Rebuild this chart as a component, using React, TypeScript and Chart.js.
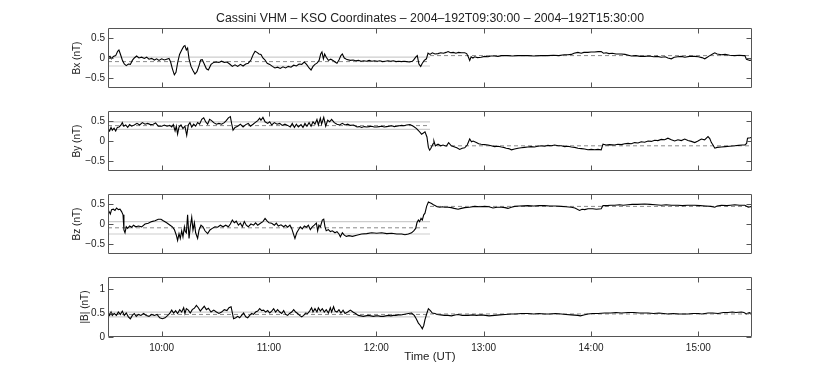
import React, { useEffect, useRef } from 'react';
import { Chart, registerables } from 'chart.js';

Chart.register(...registerables);

// ---------- DATA (time = minutes after 09:30 UT) ----------
const TITLE = 'Cassini VHM – KSO Coordinates – 2004–192T09:30:00 – 2004–192T15:30:00';
const X_TICKS = [30, 90, 150, 210, 270, 330];
const X_TICK_LABELS = ['10:00', '11:00', '12:00', '13:00', '14:00', '15:00'];
const SEG_START = [0, 180];
const SEG_END = [180, 360];

const BX_T = [0, 1.1, 2, 3, 4.3, 5.4, 6.1, 6.9, 8, 9.1, 10.2, 11.4, 12.5, 13.6, 14.7, 16, 17.3, 18.8, 20.3, 21.6, 22.9, 24.4, 25.9, 27.2, 28.5, 30, 31.5, 32.8, 34.1, 35, 36, 37.1, 38, 39, 40, 41.2, 42.3, 43, 43.8, 44.5, 45.3, 46.4, 47.5, 48.6, 49.7, 50.9, 51.8, 52.7, 53.8, 55, 56.1, 57.6, 59.1, 60.6, 62, 63.5, 65, 66.5, 68, 69.5, 71, 72.5, 74, 75.5, 77, 78.4, 79.9, 81.2, 82.2, 83.3, 84.4, 85.5, 86.6, 87.8, 89, 90.4, 91.9, 93.3, 94.8, 96.3, 97.8, 99.3, 100.8, 102.3, 103.8, 105.3, 106.8, 108.3, 109.7, 111, 112.4, 113.5, 114.6, 115.7, 116.8, 118, 118.9, 119.6, 120.4, 121.1, 122, 123.2, 124.5, 125.8, 126.9, 128, 129.1, 130.2, 131, 132.1, 133.6, 135.5, 137, 138.5, 140, 141.5, 143, 144.5, 146, 147.5, 149, 150.5, 152, 153.5, 155, 156.5, 158, 159.5, 161, 162.5, 164, 165.5, 167, 168.5, 170, 170.7, 172, 172.9, 173.8, 174.8, 175.7, 176.8, 178, 178.9, 180, 181.3, 182.8, 184.5, 186, 187.5, 189, 190.1, 191.5, 193, 194.5, 196, 197.5, 199.4, 200.5, 201.5, 202.2, 203, 204, 205, 206.5, 208.6, 210.5, 212.5, 214, 216.1, 218, 220, 223.5, 226, 229, 232, 234.7, 238, 242, 245.9, 249, 252, 255, 257.1, 259, 260.5, 262.7, 264.5, 266, 268.3, 270, 272, 274, 275.7, 277, 278.5, 280, 282, 284, 287, 289, 291, 292.5, 295, 297.5, 300, 302.5, 305, 307, 309.3, 311.5, 313, 314.9, 316.5, 318.5, 320.5, 322.5, 325, 328, 330, 332, 333.6, 335, 336.4, 338, 339.2, 340.5, 342.9, 345, 347.5, 350.4, 353, 355, 356, 356.9, 358.8, 360];
const BX_V = [0, 0.04, -0.02, 0.04, 0.06, 0.17, 0.2, 0.1, -0.05, -0.15, -0.19, -0.15, -0.16, -0.06, 0, 0.05, 0, 0.02, -0.01, 0.02, -0.03, -0.01, -0.05, -0.02, -0.06, -0.02, -0.05, -0.03, -0.01, -0.1, -0.27, -0.42, -0.36, -0.1, 0.09, 0.2, 0.29, 0.31, 0.2, 0.25, -0.02, -0.21, -0.31, -0.4, -0.34, -0.19, -0.05, -0.04, -0.15, -0.27, -0.3, -0.16, -0.11, -0.1, -0.11, -0.08, -0.11, -0.1, -0.15, -0.21, -0.17, -0.21, -0.16, -0.2, -0.15, -0.13, -0.05, 0.09, 0.17, 0.14, 0.1, 0.09, 0, -0.05, -0.13, -0.16, -0.21, -0.25, -0.23, -0.26, -0.22, -0.25, -0.21, -0.23, -0.18, -0.2, -0.15, -0.16, -0.1, -0.16, -0.25, -0.3, -0.21, -0.16, -0.13, -0.06, 0.1, 0.15, -0.02, 0.1, 0.02, -0.06, -0.03, -0.06, -0.1, -0.13, -0.05, 0.06, 0.1, 0, -0.04, -0.06, -0.05, -0.07, -0.06, -0.08, -0.07, -0.08, -0.06, -0.08, -0.07, -0.08, -0.07, -0.09, -0.08, -0.07, -0.08, -0.07, -0.09, -0.08, -0.09, -0.08, -0.09, -0.1, -0.08, -0.06, 0.02, 0.06, -0.15, -0.21, -0.13, -0.06, -0.02, 0.12, 0.09, 0.13, 0.1, 0.11, 0.13, 0.12, 0.14, 0.16, 0.13, 0.14, 0.12, 0.14, 0.13, 0.13, 0.11, 0.02, -0.06, 0.03, 0, 0.03, 0.01, 0.02, 0.04, 0.03, 0.05, 0.05, 0.04, 0.06, 0.06, 0.05, 0.06, 0.06, 0.06, 0.05, 0.06, 0.06, 0.07, 0.06, 0.08, 0.08, 0.09, 0.12, 0.14, 0.12, 0.14, 0.14, 0.15, 0.15, 0.16, 0.16, 0.12, 0.13, 0.11, 0.12, 0.1, 0.1, 0.09, 0.07, 0.05, 0.06, 0.04, 0.04, 0.05, 0.03, 0.04, 0.02, 0.03, 0, -0.02, 0.02, 0.03, 0.04, 0.02, 0.04, 0.04, 0.03, 0.01, -0.02, 0.02, 0.06, 0.1, 0.13, 0.1, 0.08, 0.09, 0.07, 0.06, 0.07, 0.06, 0.06, -0.03, -0.06, -0.05];

const BY_T = [0, 0.9, 1.7, 2.4, 3.4, 4.3, 5.2, 6.2, 7.3, 8, 8.8, 9.9, 11, 12.1, 13.2, 14.7, 16.2, 17.7, 19.2, 20.7, 22.2, 23.7, 25.3, 26.6, 28.1, 30, 31.5, 33, 34.5, 35.6, 36.5, 37.5, 38.2, 38.9, 39.7, 40.8, 41.9, 43, 44, 44.9, 45.8, 46.8, 47.9, 49, 50.1, 51.2, 52.4, 53.5, 54.6, 55.7, 56.8, 57.9, 59.1, 60.6, 62, 63.5, 65, 66.1, 67.3, 68.4, 69.1, 69.9, 71, 72.5, 74, 75.5, 77, 78.4, 79.6, 81.1, 82.2, 83.7, 84.8, 85.5, 86.6, 87.8, 89.3, 90.4, 91.5, 93, 94.5, 96, 97.4, 98.9, 100.4, 101.9, 103, 104.2, 105.3, 106.4, 107.9, 109, 110.1, 111.2, 112.4, 113.5, 114.6, 115.7, 116.8, 117.6, 118.7, 119.4, 120.6, 121.7, 122.8, 123.9, 125, 126.5, 128, 129.5, 131, 132.5, 134, 135.5, 137.3, 139.2, 140.5, 141.8, 143.2, 144.6, 146, 147.4, 148.8, 150.2, 151.6, 153, 154.4, 155.8, 157.2, 158.6, 160, 161.4, 162.8, 164.2, 165.5, 166.9, 168.8, 170.7, 172.5, 173.8, 175.3, 176.3, 177.2, 178.3, 179.1, 179.8, 180.5, 181.7, 182.2, 183, 184.5, 186, 187.3, 189.1, 190.4, 191.9, 193.8, 195, 196.6, 198, 199.4, 200.8, 202.2, 203.2, 204.1, 205.9, 207.2, 208.6, 210.5, 212.4, 214.2, 216.1, 218, 219.9, 221.2, 222.6, 224, 225.5, 227.3, 229.2, 231, 232.8, 234.7, 236.5, 238.4, 240.3, 242.2, 244, 245.9, 247.8, 249.7, 251.6, 253.4, 255.3, 257.1, 259, 260.9, 262.7, 264.6, 266.4, 268.3, 270.2, 272, 273.9, 275.7, 276.7, 278.5, 280.4, 283.2, 285, 287, 288.8, 290.7, 292.5, 294.4, 296.3, 298.1, 300, 301.9, 303.7, 305.6, 307.4, 309.3, 311.2, 313, 314.9, 316.8, 318.6, 320.5, 322.4, 324.2, 326.1, 328, 329.8, 331.7, 333.5, 335.4, 336.4, 337.3, 338.2, 339.2, 340.5, 342.9, 345, 347.5, 350.4, 352.5, 354.5, 356, 357, 357.5, 359, 360];
const BY_V = [0.31, 0.25, 0.34, 0.27, 0.32, 0.25, 0.34, 0.35, 0.4, 0.46, 0.37, 0.4, 0.34, 0.41, 0.37, 0.4, 0.44, 0.4, 0.46, 0.42, 0.44, 0.41, 0.42, 0.45, 0.37, 0.37, 0.4, 0.37, 0.39, 0.35, 0.41, 0.25, 0.37, 0.17, 0.35, 0.4, 0.31, 0.37, 0.14, 0.4, 0.46, 0.35, 0.42, 0.37, 0.46, 0.42, 0.54, 0.58, 0.48, 0.42, 0.54, 0.51, 0.46, 0.42, 0.44, 0.42, 0.46, 0.51, 0.58, 0.61, 0.44, 0.27, 0.34, 0.37, 0.42, 0.35, 0.41, 0.44, 0.37, 0.42, 0.46, 0.51, 0.57, 0.52, 0.59, 0.48, 0.44, 0.48, 0.4, 0.46, 0.42, 0.44, 0.39, 0.42, 0.39, 0.35, 0.44, 0.34, 0.42, 0.35, 0.41, 0.34, 0.44, 0.37, 0.46, 0.37, 0.48, 0.42, 0.54, 0.4, 0.57, 0.42, 0.59, 0.37, 0.52, 0.48, 0.54, 0.46, 0.42, 0.4, 0.44, 0.4, 0.42, 0.39, 0.4, 0.35, 0.36, 0.34, 0.36, 0.35, 0.36, 0.37, 0.35, 0.35, 0.36, 0.37, 0.35, 0.36, 0.37, 0.38, 0.36, 0.37, 0.38, 0.39, 0.38, 0.4, 0.41, 0.37, 0.31, 0.25, 0.17, 0.2, 0.23, 0.1, -0.16, -0.23, -0.18, -0.07, 0, -0.12, -0.08, -0.12, -0.1, -0.13, -0.04, -0.12, -0.15, -0.17, -0.21, -0.18, -0.17, -0.1, 0.05, -0.02, 0, -0.04, -0.07, -0.08, -0.09, -0.1, -0.12, -0.14, -0.13, -0.15, -0.16, -0.18, -0.19, -0.22, -0.2, -0.18, -0.17, -0.16, -0.15, -0.14, -0.15, -0.13, -0.12, -0.13, -0.11, -0.12, -0.1, -0.12, -0.12, -0.14, -0.13, -0.15, -0.16, -0.18, -0.19, -0.2, -0.22, -0.21, -0.22, -0.21, -0.22, -0.08, -0.1, -0.09, -0.1, -0.08, -0.09, -0.07, -0.06, -0.07, -0.04, -0.05, -0.02, -0.03, 0, -0.01, 0.02, 0.01, 0.04, 0.03, 0.07, 0.03, 0, 0.03, 0.01, 0.05, 0.01, -0.01, -0.04, 0, 0.05, 0.03, 0.11, 0.06, -0.04, -0.1, -0.18, -0.16, -0.15, -0.14, -0.13, -0.12, -0.11, -0.1, -0.1, -0.06, 0.07, 0.08, 0.09];

const BZ_T = [0, 0.6, 1.3, 2, 3, 3.9, 4.8, 5.8, 6.7, 7.6, 8.4, 8.9, 9.5, 10.2, 11, 12.1, 13.2, 14.3, 15.5, 17, 18.8, 20.7, 22.5, 24.4, 26.3, 28.1, 29.6, 30.9, 32.8, 34.7, 36, 37.1, 38.2, 38.9, 39.7, 40.4, 41.2, 41.9, 42.7, 43.2, 43.8, 44.5, 45.3, 46, 46.8, 47.5, 48.3, 49, 50.1, 50.9, 52, 53.1, 54.2, 55.7, 57, 58.3, 59.8, 61.3, 62.8, 64.3, 65.8, 67.3, 68.4, 69.5, 70.6, 71.7, 72.9, 74, 75.1, 76.2, 77.3, 78.4, 79.9, 81.4, 82.5, 83.7, 85.2, 86.6, 87.8, 88.9, 90, 91.5, 93, 94.1, 95.2, 96.7, 98.2, 99.3, 100.4, 101.7, 102.7, 103.6, 104.5, 105.5, 106.4, 107.5, 108.6, 109.8, 110.9, 112, 113.1, 114.2, 115.3, 116.5, 117.2, 117.9, 118.7, 119.8, 120.6, 121.3, 122, 123.2, 124.3, 125.4, 126.9, 128, 129.1, 129.9, 131, 132.1, 133.2, 134.7, 136.6, 139, 141.8, 144.6, 147.4, 150.2, 153, 155.8, 158.6, 161.4, 164.2, 166, 167.9, 169.7, 170.9, 172, 172.7, 173.5, 174.2, 175, 175.7, 176.5, 177.2, 178.1, 179.1, 180, 180.9, 181.9, 182.8, 184, 185.5, 187, 188.2, 190, 191.9, 193.5, 195.7, 197.5, 199.4, 202, 205, 208, 210.6, 213, 215.2, 217.5, 219.9, 222, 223.6, 225.5, 227.3, 230, 234.7, 238, 241, 244, 247, 250, 253.4, 256, 259, 261, 263.6, 265, 266.5, 268.3, 271, 273, 275.7, 276.7, 279, 281, 283.2, 286, 288, 290.7, 293, 296, 300, 303, 306, 309.3, 312, 315, 318.6, 321, 324, 328, 331, 334, 337, 339.2, 340.5, 342.9, 346, 348, 350.4, 353, 356, 357.9, 360];
const BZ_V = [0.27, 0.31, 0.25, 0.36, 0.37, 0.34, 0.4, 0.36, 0.37, 0.31, 0.23, -0.15, -0.22, -0.07, -0.11, -0.05, -0.08, -0.03, -0.07, -0.05, -0.07, 0, 0.02, 0.06, 0.08, 0.12, 0.12, 0.08, 0.03, -0.03, -0.07, -0.14, -0.28, -0.41, -0.24, -0.36, -0.17, -0.32, -0.07, -0.19, -0.22, 0.23, -0.36, -0.07, 0.17, -0.15, 0.03, -0.22, -0.36, -0.15, -0.03, -0.07, -0.17, -0.24, -0.15, -0.11, -0.07, -0.08, -0.03, -0.07, -0.03, -0.07, 0, 0.1, 0.03, 0.07, -0.03, 0.02, -0.07, 0.06, -0.03, -0.07, 0, -0.03, 0.03, -0.03, 0.02, 0.06, 0.14, 0.08, 0.03, 0.02, -0.03, 0.02, -0.05, -0.02, -0.07, -0.03, -0.08, -0.03, -0.11, -0.24, -0.36, -0.22, -0.15, -0.07, -0.12, -0.05, -0.08, -0.03, -0.14, -0.07, -0.03, 0.02, -0.17, -0.03, -0.07, 0.1, 0.12, -0.07, -0.17, -0.14, -0.19, -0.17, -0.22, -0.19, -0.25, -0.32, -0.22, -0.28, -0.31, -0.29, -0.31, -0.28, -0.25, -0.24, -0.22, -0.23, -0.22, -0.24, -0.23, -0.25, -0.25, -0.27, -0.25, -0.22, -0.17, -0.11, 0.03, 0.1, 0.06, 0.14, 0.1, 0.23, 0.27, 0.44, 0.55, 0.53, 0.51, 0.48, 0.46, 0.43, 0.42, 0.43, 0.42, 0.42, 0.41, 0.39, 0.37, 0.39, 0.41, 0.42, 0.44, 0.43, 0.44, 0.43, 0.4, 0.42, 0.42, 0.41, 0.39, 0.42, 0.44, 0.45, 0.46, 0.45, 0.46, 0.46, 0.45, 0.45, 0.44, 0.43, 0.42, 0.4, 0.34, 0.37, 0.36, 0.38, 0.38, 0.37, 0.38, 0.46, 0.46, 0.47, 0.47, 0.48, 0.47, 0.48, 0.49, 0.49, 0.5, 0.49, 0.48, 0.47, 0.48, 0.47, 0.47, 0.46, 0.47, 0.47, 0.46, 0.45, 0.44, 0.42, 0.45, 0.47, 0.46, 0.47, 0.48, 0.47, 0.47, 0.42, 0.44];

const BM_T = [0, 0.9, 1.7, 2.4, 3.5, 4.7, 5.8, 6.9, 8, 9.1, 10.2, 11.4, 12.5, 13.6, 14.7, 15.8, 17, 18.4, 19.9, 21.4, 22.9, 24.4, 25.9, 27.4, 28.9, 30.4, 31.9, 33.4, 34.5, 35.6, 36.7, 37.8, 38.9, 40.1, 41.2, 42.3, 43, 43.8, 44.9, 46, 47.1, 48.3, 49.4, 50.5, 51.6, 52.7, 53.8, 55, 56.1, 57.6, 59.1, 60.6, 62, 63.5, 65, 66.5, 67.6, 68.8, 69.7, 70.2, 71.4, 72.5, 73.6, 74.7, 75.8, 77, 78.1, 79.2, 80.3, 81.4, 82.5, 83.7, 84.8, 85.9, 87, 88.1, 89.3, 90.4, 91.5, 92.6, 93.7, 94.8, 96, 97.1, 98.2, 99.3, 100.4, 101.5, 102.7, 103.8, 104.9, 106, 107.1, 108.3, 109.4, 110.5, 111.6, 112.7, 113.8, 114.6, 115.7, 116.8, 117.6, 118.7, 119.8, 120.9, 122, 123.2, 124.3, 125, 126.1, 126.9, 128, 129.1, 130.2, 131.4, 132.5, 134, 135.5, 136.9, 138.4, 139.9, 141.3, 142.7, 144.1, 145.5, 146.9, 148.3, 149.7, 151.1, 152.5, 153.9, 155.3, 156.7, 158.1, 159.5, 160.9, 162.3, 163.7, 165.1, 166.5, 167.9, 169.7, 171.2, 172.3, 173.5, 174.6, 175.7, 176.5, 177.2, 178.3, 179.1, 180.2, 181.3, 182.8, 184, 186, 188, 190.1, 192, 194, 195.7, 198, 201.3, 204, 206, 208.6, 211, 213, 216.1, 219, 222, 225.5, 228, 231, 234.7, 238, 241, 244, 247, 250, 253.4, 256, 259, 262.7, 264, 266, 268.3, 271, 274, 277.6, 281, 284, 287, 290.7, 294, 297, 301.9, 305, 308, 313, 316, 319, 324.2, 327, 330, 332, 335.4, 338, 341, 344, 346.6, 349, 351, 354.1, 355.5, 356.9, 357.8, 358.8, 360];
const BM_V = [0.49, 0.45, 0.52, 0.45, 0.49, 0.45, 0.52, 0.47, 0.54, 0.45, 0.5, 0.42, 0.38, 0.45, 0.49, 0.43, 0.47, 0.45, 0.49, 0.45, 0.43, 0.47, 0.45, 0.47, 0.4, 0.38, 0.4, 0.45, 0.49, 0.56, 0.5, 0.55, 0.49, 0.57, 0.52, 0.61, 0.49, 0.59, 0.56, 0.5, 0.57, 0.6, 0.66, 0.61, 0.54, 0.59, 0.64, 0.57, 0.6, 0.52, 0.56, 0.52, 0.49, 0.52, 0.57, 0.55, 0.61, 0.63, 0.47, 0.38, 0.4, 0.43, 0.4, 0.45, 0.5, 0.42, 0.4, 0.45, 0.49, 0.47, 0.52, 0.54, 0.59, 0.55, 0.56, 0.52, 0.55, 0.5, 0.54, 0.59, 0.52, 0.57, 0.52, 0.49, 0.55, 0.47, 0.45, 0.49, 0.52, 0.57, 0.52, 0.49, 0.45, 0.42, 0.45, 0.5, 0.49, 0.54, 0.61, 0.52, 0.59, 0.52, 0.61, 0.54, 0.59, 0.52, 0.57, 0.5, 0.61, 0.52, 0.63, 0.54, 0.52, 0.57, 0.5, 0.56, 0.49, 0.52, 0.56, 0.52, 0.49, 0.45, 0.44, 0.43, 0.44, 0.45, 0.44, 0.43, 0.44, 0.44, 0.43, 0.43, 0.44, 0.45, 0.44, 0.45, 0.45, 0.46, 0.46, 0.47, 0.48, 0.49, 0.5, 0.45, 0.38, 0.29, 0.24, 0.17, 0.24, 0.36, 0.5, 0.59, 0.55, 0.5, 0.49, 0.47, 0.46, 0.45, 0.45, 0.44, 0.46, 0.47, 0.45, 0.45, 0.46, 0.45, 0.46, 0.45, 0.44, 0.45, 0.46, 0.47, 0.48, 0.48, 0.49, 0.49, 0.48, 0.49, 0.48, 0.48, 0.49, 0.48, 0.47, 0.46, 0.45, 0.44, 0.46, 0.48, 0.49, 0.49, 0.5, 0.5, 0.51, 0.5, 0.51, 0.51, 0.5, 0.5, 0.49, 0.5, 0.48, 0.49, 0.48, 0.48, 0.49, 0.49, 0.48, 0.5, 0.5, 0.49, 0.51, 0.51, 0.52, 0.51, 0.52, 0.51, 0.48, 0.5, 0.51, 0.45];

// interval means and standard deviations (first / second interval)
const BX_MEAN = [-0.09, 0.06];
const BX_STD = [0.11, null];
const BY_MEAN = [0.385, -0.12];
const BY_STD = [0.095, null];
const BZ_MEAN = [-0.095, 0.44];
const BZ_STD = [0.155, null];
const BM_MEAN = [0.47, 0.48];
const BM_STD = [0.05, null];

const Y_TICKS_B = [-0.5, 0, 0.5];
const Y_TICKS_MAG = [0, 0.5, 1];

// ---------- LAYOUT ----------
const W = 830;
const H = 378;
const PLOT_LEFT = 108;
const PLOT_RIGHT = 752;
const PANEL_TOPS = [28, 111, 194, 277];
const PANEL_H = 60;
const X_AXIS_H = 27;
const FONT = 'Liberation Sans, Arial, Helvetica, sans-serif';
const TEXT = '#222';

const PANELS = [
  { label: 'Bx (nT)', t: BX_T, v: BX_V, mean: BX_MEAN, std: BX_STD, min: -0.75, max: 0.75, ticks: Y_TICKS_B, titleX: 77 },
  { label: 'By (nT)', t: BY_T, v: BY_V, mean: BY_MEAN, std: BY_STD, min: -0.75, max: 0.75, ticks: Y_TICKS_B, titleX: 77 },
  { label: 'Bz (nT)', t: BZ_T, v: BZ_V, mean: BZ_MEAN, std: BZ_STD, min: -0.75, max: 0.75, ticks: Y_TICKS_B, titleX: 77 },
  { label: '|B| (nT)', t: BM_T, v: BM_V, mean: BM_MEAN, std: BM_STD, min: 0, max: 1.25, ticks: Y_TICKS_MAG, titleX: 85 },
];

const fmtY = (v: number) => {
  const s = String(Math.abs(v));
  return v < 0 ? '\u2212' + s : s;
};

const framePlugin = {
  id: 'frame',
  afterDatasetsDraw(chart: any) {
    const { ctx, chartArea: a, scales } = chart;
    const x = scales.x;
    const y = scales.y;
    const L = Math.round(a.left) + 0.5;
    const R = Math.round(a.right) - 0.5;
    const T = Math.round(a.top) + 0.5;
    const B = Math.round(a.bottom) - 0.5;
    const tl = 5;
    ctx.save();
    ctx.strokeStyle = '#555';
    ctx.lineWidth = 1;
    ctx.beginPath();
    ctx.rect(L, T, R - L, B - T);
    X_TICKS.forEach((v) => {
      const px = Math.round(x.getPixelForValue(v)) + 0.5;
      ctx.moveTo(px, T);
      ctx.lineTo(px, T + tl);
      ctx.moveTo(px, B);
      ctx.lineTo(px, B - tl);
    });
    (chart.$yTicks as number[]).forEach((v) => {
      const py = Math.round(y.getPixelForValue(v)) + 0.5;
      ctx.moveTo(L, py);
      ctx.lineTo(L + tl, py);
      ctx.moveTo(R, py);
      ctx.lineTo(R - tl, py);
    });
    ctx.stroke();
    ctx.restore();
  },
};

function makeConfig(i: number) {
  const p = PANELS[i];
  const top = PANEL_TOPS[i];
  const bottom = top + PANEL_H;
  const isFirst = i === 0;
  const isLast = i === PANELS.length - 1;

  const datasets: any[] = [
    {
      data: p.t.map((t, k) => ({ x: t, y: p.v[k] })),
      borderColor: '#000',
      borderWidth: 1.1,
      pointRadius: 0,
      tension: 0,
    },
  ];
  for (let s = 0; s < SEG_START.length; s++) {
    datasets.push({
      data: [
        { x: SEG_START[s], y: p.mean[s] },
        { x: SEG_END[s], y: p.mean[s] },
      ],
      borderColor: '#8a8a8a',
      borderWidth: 1,
      borderDash: [4, 3],
      pointRadius: 0,
    });
    const sd = p.std[s];
    if (sd != null) {
      [p.mean[s] + sd, p.mean[s] - sd].forEach((lv) => {
        datasets.push({
          data: [
            { x: SEG_START[s], y: lv },
            { x: SEG_END[s], y: lv },
          ],
          borderColor: '#cdcdcd',
          borderWidth: 1.2,
          pointRadius: 0,
        });
      });
    }
  }

  const xScale: any = {
    type: 'linear',
    min: 0,
    max: 360,
    display: isLast,
    afterBuildTicks: (s: any) => {
      s.ticks = X_TICKS.map((v) => ({ value: v }));
    },
    grid: { display: false, drawTicks: false },
    border: { display: false },
    ticks: {
      autoSkip: false,
      maxRotation: 0,
      padding: 5,
      color: TEXT,
      font: { family: FONT, size: 10 },
      callback: (v: number) => X_TICK_LABELS[X_TICKS.indexOf(v)] ?? '',
    },
    title: {
      display: true,
      text: 'Time (UT)',
      color: TEXT,
      font: { family: FONT, size: 11.5 },
      padding: { top: 0, bottom: 0 },
    },
  };
  if (isLast) {
    xScale.afterFit = (s: any) => {
      s.height = X_AXIS_H;
    };
  }

  return {
    type: 'line',
    data: { datasets },
    options: {
      animation: false,
      responsive: false,
      events: [],
      layout: {
        padding: {
          left: 0,
          right: W - PLOT_RIGHT,
          top: isFirst ? 0 : top,
          bottom: isLast ? H - bottom - X_AXIS_H : H - bottom,
        },
      },
      plugins: {
        legend: { display: false },
        tooltip: { enabled: false },
        title: isFirst
          ? {
              display: true,
              fullSize: false,
              text: TITLE,
              color: TEXT,
              font: { family: FONT, size: 12.3, weight: 'normal' },
              padding: { top: 11.2, bottom: 2.04 },
            }
          : { display: false },
      },
      scales: {
        x: xScale,
        y: {
          type: 'linear',
          min: p.min,
          max: p.max,
          afterFit: (s: any) => {
            s.width = PLOT_LEFT;
          },
          afterBuildTicks: (s: any) => {
            s.ticks = p.ticks.map((v) => ({ value: v }));
          },
          grid: { display: false, drawTicks: false },
          border: { display: false },
          ticks: {
            padding: 3,
            color: TEXT,
            font: { family: FONT, size: 10 },
            callback: (v: number) => fmtY(v),
          },
          title: {
            display: true,
            text: p.label,
            color: TEXT,
            font: { family: FONT, size: 10 },
            padding: { top: p.titleX - 6, bottom: 0 },
          },
        },
      },
    },
    plugins: [
      {
        id: 'yticks',
        beforeDraw(chart: any) {
          chart.$yTicks = p.ticks;
        },
      },
      framePlugin,
    ],
  };
}

function Panel({ index }: { index: number }) {
  const ref = useRef<HTMLCanvasElement | null>(null);
  useEffect(() => {
    if (!ref.current) return;
    const chart = new Chart(ref.current, makeConfig(index) as any);
    return () => chart.destroy();
  }, [index]);
  return (
    <canvas
      ref={ref}
      width={W}
      height={H}
      style={{ position: 'absolute', left: 0, top: 0, width: W, height: H }}
    />
  );
}

export default function App() {
  return (
    <div
      style={{
        position: 'fixed',
        left: 0,
        top: 0,
        width: W,
        height: H,
        background: '#fff',
        overflow: 'hidden',
      }}
    >
      {PANELS.map((_, i) => (
        <Panel key={i} index={i} />
      ))}
    </div>
  );
}
